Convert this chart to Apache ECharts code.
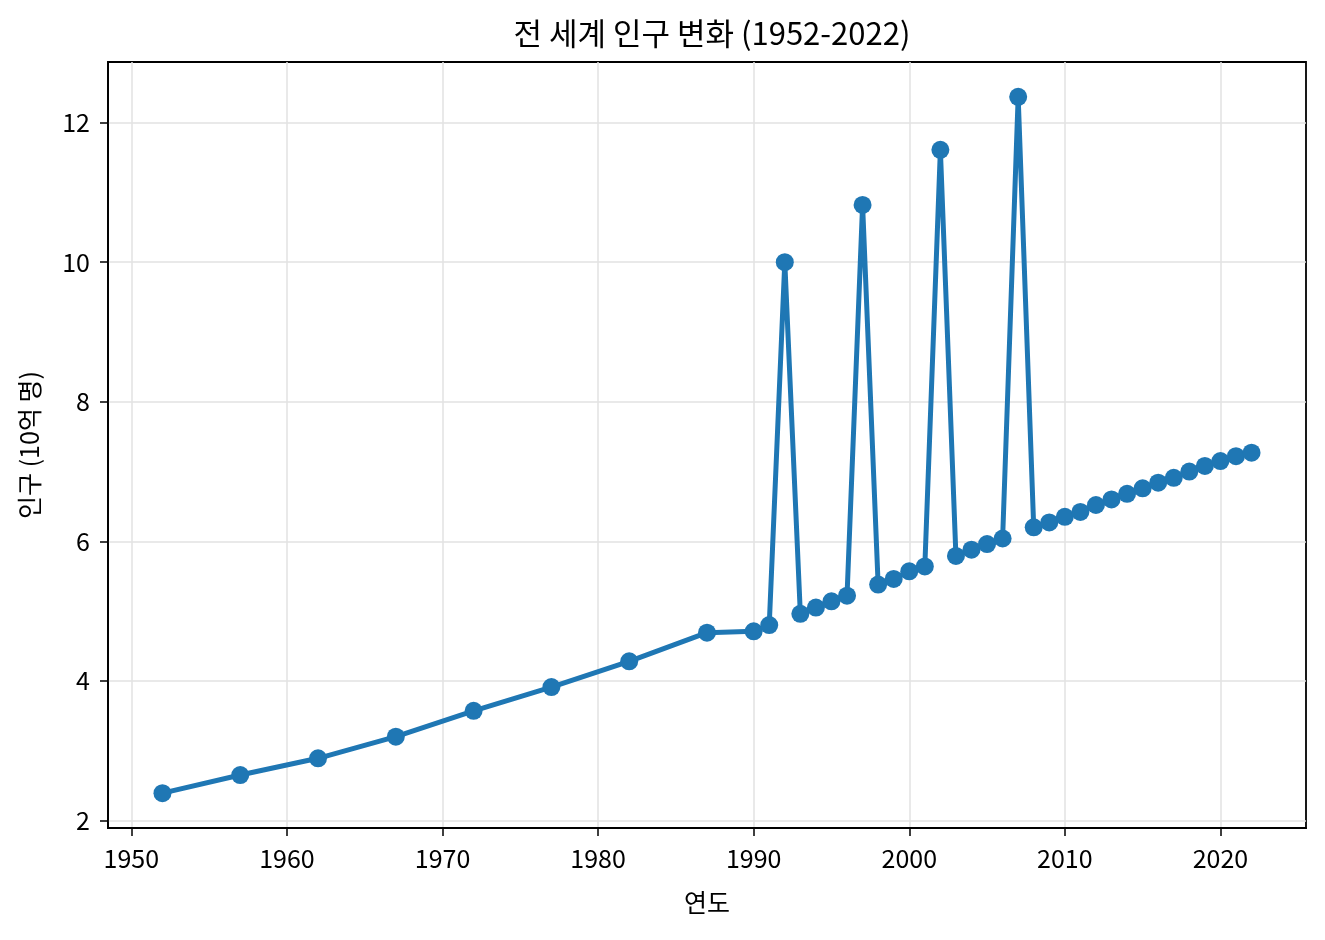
<!DOCTYPE html>
<html>
<head>
<meta charset="utf-8">
<title>전 세계 인구 변화</title>
<script src="https://cdn.jsdelivr.net/npm/echarts@6/dist/echarts.min.js"></script>
<style>
  html, body { margin: 0; padding: 0; background: #fff; }
  #chart { width: 1325px; height: 940px; }
</style>
</head>
<body>
<div id="chart"></div>
<script>
// 연도
const years = [
  1952, 1957, 1962, 1967, 1972, 1977, 1982, 1987, 1990, 1991,
  1992, 1993, 1994, 1995, 1996, 1997, 1998, 1999, 2000, 2001,
  2002, 2003, 2004, 2005, 2006, 2007, 2008, 2009, 2010, 2011,
  2012, 2013, 2014, 2015, 2016, 2017, 2018, 2019, 2020, 2021, 2022
]
// 인구 (10억 명)
const population = [
  2.39, 2.65, 2.89, 3.20, 3.57, 3.91, 4.28, 4.69, 4.71, 4.80,
  10.00, 4.96, 5.05, 5.14, 5.22, 10.82, 5.38, 5.46, 5.57, 5.64,
  11.61, 5.79, 5.88, 5.96, 6.04, 12.37, 6.20, 6.27, 6.35, 6.42,
  6.52, 6.60, 6.68, 6.76, 6.84, 6.91, 7.00, 7.08, 7.15, 7.22, 7.27
]
const xTicks = [1950, 1960, 1970, 1980, 1990, 2000, 2010, 2020]
const yTicks = [2, 4, 6, 8, 10, 12]

const font = 'Noto Sans CJK KR'

// matplotlib 기본 여백 5%
function padded(arr) {
  const lo = Math.min(...arr)
  const hi = Math.max(...arr)
  const pad = (hi - lo) * 0.05
  return [lo - pad, hi + pad]
}
const xRange = padded(years)
const yRange = padded(population)

const chart = echarts.init(document.getElementById('chart'))

const axisCommon = {
  axisLine: { show: true, lineStyle: { color: '#000', width: 1.8 } },
  axisTick: { show: true, length: 8, lineStyle: { color: '#000', width: 1.5 } },
  splitLine: { show: true, lineStyle: { color: '#e2e2e2', width: 1.5 } },
  nameTextStyle: { color: '#000', fontSize: 25, fontFamily: font },
  nameLocation: 'middle'
}

const option = {
  animation: false,
  backgroundColor: '#fff',
  title: {
    text: '전 세계 인구 변화 (1952-2022)',
    left: 707,
    textAlign: 'center',
    top: 13,
    textStyle: { color: '#000', fontSize: 31, fontWeight: 'normal', fontFamily: font }
  },
  grid: {
    left: 108,
    right: 19,
    top: 62,
    bottom: 112,
    show: true,
    borderColor: '#000',
    borderWidth: 1.8,
    containLabel: false
  },
  xAxis: Object.assign({}, axisCommon, {
    type: 'value',
    min: xRange[0],
    max: xRange[1],
    name: '연도',
    nameGap: 62,
    axisTick: Object.assign({}, axisCommon.axisTick, { customValues: xTicks }),
    axisLabel: {
      customValues: xTicks,
      formatter: v => String(v),
      margin: 18,
      color: '#000',
      fontSize: 25,
      fontFamily: font
    }
  }),
  yAxis: Object.assign({}, axisCommon, {
    type: 'value',
    min: yRange[0],
    max: yRange[1],
    name: '인구 (10억 명)',
    nameGap: 66,
    axisTick: Object.assign({}, axisCommon.axisTick, { customValues: yTicks }),
    axisLabel: {
      customValues: yTicks,
      formatter: v => String(v),
      margin: 18,
      color: '#000',
      fontSize: 25,
      fontFamily: font
    }
  }),
  series: [
    {
      type: 'line',
      data: years.map((y, i) => [y, population[i]]),
      symbol: 'circle',
      symbolSize: 18,
      showAllSymbol: true,
      lineStyle: { color: '#1f77b4', width: 5 },
      itemStyle: { color: '#1f77b4' }
    }
  ]
}

chart.setOption(option)
</script>
</body>
</html>
